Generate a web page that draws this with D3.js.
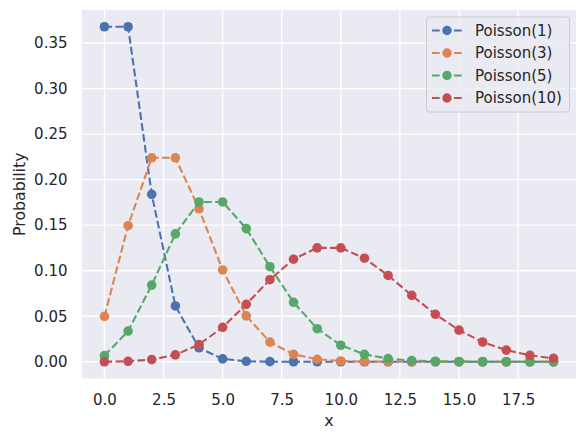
<!DOCTYPE html>
<html>
<head>
<meta charset="utf-8">
<title>Poisson PMF</title>
<script src="https://cdnjs.cloudflare.com/ajax/libs/d3/7.8.5/d3.min.js"></script>
<style>
  body { margin: 0; background: #fff; }
  text { font-family: "DejaVu Sans", sans-serif; fill: #262626; }
</style>
</head>
<body>
<script>
  // values, k = 0..19
  var ks = d3.range(0, 20);
  var pois1 = [0.3679, 0.3679, 0.1839, 0.0613, 0.0153, 0.0031, 0.0005, 0.0001, 0, 0,
               0, 0, 0, 0, 0, 0, 0, 0, 0, 0];
  var pois3 = [0.0498, 0.1494, 0.2240, 0.2240, 0.1680, 0.1008, 0.0504, 0.0216, 0.0081, 0.0027,
               0.0008, 0.0002, 0.0001, 0, 0, 0, 0, 0, 0, 0];
  var pois5 = [0.0067, 0.0337, 0.0842, 0.1404, 0.1755, 0.1755, 0.1462, 0.1044, 0.0653, 0.0363,
               0.0181, 0.0082, 0.0034, 0.0013, 0.0005, 0.0002, 0, 0, 0, 0];
  var pois10 = [0.0000, 0.0005, 0.0023, 0.0076, 0.0189, 0.0378, 0.0631, 0.0901, 0.1126, 0.1251,
                0.1251, 0.1137, 0.0948, 0.0729, 0.0521, 0.0347, 0.0217, 0.0128, 0.0071, 0.0037];
  var seriesNames = ["Poisson(1)", "Poisson(3)", "Poisson(5)", "Poisson(10)"];
  var seriesValues = [pois1, pois3, pois5, pois10];
  var colors = ["#4C72B0", "#DD8452", "#55A868", "#C44E52"];
  var xTicks = [0, 2.5, 5, 7.5, 10, 12.5, 15, 17.5];
  var yTicks = [0, 0.05, 0.10, 0.15, 0.20, 0.25, 0.30, 0.35];

  var W = 586, H = 441;
  var mLeft = 82, mRight = 576, mTop = 10, mBottom = 378.5;

  var svg = d3.select("body").append("svg")
      .attr("width", W)
      .attr("height", H);

  var x = d3.scaleLinear().domain([-0.95, 19.95]).range([mLeft, mRight]);
  var y = d3.scaleLinear().domain([-0.0184, 0.3863]).range([mBottom, mTop]);

  svg.append("rect")
      .attr("x", mLeft).attr("y", mTop)
      .attr("width", mRight - mLeft).attr("height", mBottom - mTop)
      .attr("fill", "#EAEAF2");

  // grid
  svg.append("g").selectAll("line").data(xTicks).enter().append("line")
      .attr("x1", function(d) { return x(d); })
      .attr("x2", function(d) { return x(d); })
      .attr("y1", mTop).attr("y2", mBottom)
      .attr("stroke", "#fff").attr("stroke-width", 1.4);
  svg.append("g").selectAll("line").data(yTicks).enter().append("line")
      .attr("y1", function(d) { return y(d); })
      .attr("y2", function(d) { return y(d); })
      .attr("x1", mLeft).attr("x2", mRight)
      .attr("stroke", "#fff").attr("stroke-width", 1.4);

  // axes
  var xAxis = svg.append("g")
      .attr("transform", "translate(0," + mBottom + ")")
      .call(d3.axisBottom(x).tickValues(xTicks).tickFormat(d3.format(".1f")).tickSize(0).tickPadding(16));
  var yAxis = svg.append("g")
      .attr("transform", "translate(" + mLeft + ",0)")
      .call(d3.axisLeft(y).tickValues(yTicks).tickFormat(d3.format(".2f")).tickSize(0).tickPadding(14.5));
  [xAxis, yAxis].forEach(function(a) {
    a.select(".domain").remove();
    a.selectAll("text").attr("font-size", "15px").attr("font-family", "DejaVu Sans").attr("fill", "#262626");
  });

  svg.append("text")
      .attr("x", (mLeft + mRight) / 2).attr("y", 425.5)
      .attr("text-anchor", "middle")
      .attr("font-size", "16px")
      .text("x");
  svg.append("text")
      .attr("transform", "translate(24.5," + ((mTop + mBottom) / 2) + ") rotate(-90)")
      .attr("text-anchor", "middle")
      .attr("font-size", "15.8px")
      .text("Probability");

  // series
  var line = d3.line()
      .x(function(d, i) { return x(ks[i]); })
      .y(function(d) { return y(d); });

  seriesValues.forEach(function(vals, s) {
    var g = svg.append("g");
    g.append("path")
        .attr("d", line(vals))
        .attr("fill", "none")
        .attr("stroke", colors[s])
        .attr("stroke-width", 2.1)
        .attr("stroke-dasharray", "7.7,3.3");
    g.selectAll("circle").data(vals).enter().append("circle")
        .attr("cx", function(d, i) { return x(ks[i]); })
        .attr("cy", function(d) { return y(d); })
        .attr("r", 4.8)
        .attr("fill", colors[s]);
  });

  // legend
  var lg = svg.append("g");
  lg.append("rect")
      .attr("x", 426.5).attr("y", 17)
      .attr("width", 143).attr("height", 95)
      .attr("rx", 3)
      .attr("fill", "#EAEAF2").attr("fill-opacity", 0.8)
      .attr("stroke", "#CCCCCC").attr("stroke-width", 1);
  seriesNames.forEach(function(name, s) {
    var cy = 30.5 + s * 22.5;
    lg.append("line")
        .attr("x1", 432).attr("x2", 462)
        .attr("y1", cy).attr("y2", cy)
        .attr("stroke", colors[s]).attr("stroke-width", 2.1)
        .attr("stroke-dasharray", "7.7,3.3");
    lg.append("circle")
        .attr("cx", 447).attr("cy", cy).attr("r", 4.7)
        .attr("fill", colors[s]);
    lg.append("text")
        .attr("x", 475).attr("y", cy)
        .attr("dy", "0.36em")
        .attr("font-size", "15px")
        .text(name);
  });
</script>
</body>
</html>
